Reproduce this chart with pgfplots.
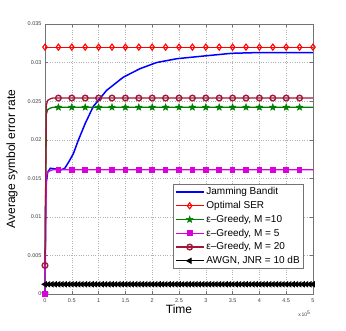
\documentclass[border=0pt]{standalone}
\usepackage{fontspec}
\setmainfont{Liberation Sans}
\usepackage{pgfplots}
\usepackage{pgfplotstable}
\pgfplotsset{compat=1.18}

\definecolor{jbblue}{rgb}{0,0,1}
\definecolor{optred}{rgb}{1,0,0}
\definecolor{gm10}{rgb}{0,0.5,0}
\definecolor{gm5}{rgb}{0.85,0,0.85}
\definecolor{gm20}{rgb}{0.63,0.09,0.22}
\definecolor{framec}{rgb}{0.45,0.45,0.45}

% filled five point star
\pgfdeclareplotmark{fstar}{%
  \pgfpathmoveto{\pgfpointpolar{90}{\pgfplotmarksize}}%
  \pgfpathlineto{\pgfpointpolar{126}{0.42\pgfplotmarksize}}%
  \pgfpathlineto{\pgfpointpolar{162}{\pgfplotmarksize}}%
  \pgfpathlineto{\pgfpointpolar{198}{0.42\pgfplotmarksize}}%
  \pgfpathlineto{\pgfpointpolar{234}{\pgfplotmarksize}}%
  \pgfpathlineto{\pgfpointpolar{270}{0.42\pgfplotmarksize}}%
  \pgfpathlineto{\pgfpointpolar{306}{\pgfplotmarksize}}%
  \pgfpathlineto{\pgfpointpolar{342}{0.42\pgfplotmarksize}}%
  \pgfpathlineto{\pgfpointpolar{18}{\pgfplotmarksize}}%
  \pgfpathlineto{\pgfpointpolar{54}{0.42\pgfplotmarksize}}%
  \pgfpathclose\pgfusepathqfillstroke}

% explicit legend sample: colour, line width, mark, mark size
\newcommand{\legsample}[4]{%
  \draw[#1, line width=#2] (0pt,0pt) -- (28pt,0pt);
  \draw[#1, fill=#1, line width=#2] plot[mark=#3, mark size=#4] coordinates {(14pt,0pt)};}

% epsilon-greedy runs (time, SER)
\pgfplotstableread{
x      m10     m5      m20
0      0.0000  0.0000  0.0037
2500   0.0233  0.0152  0.0245
5000   0.0239  0.0158  0.0251
10000  0.0241  0.0160  0.0253
15000  0.0242  0.0161  0.0254
25000  0.0242  0.0161  0.0254
50000  0.0242  0.0161  0.0254
75000  0.0242  0.0161  0.0254
100000 0.0242  0.0161  0.0254
125000 0.0242  0.0161  0.0254
150000 0.0242  0.0161  0.0254
175000 0.0242  0.0161  0.0254
200000 0.0242  0.0161  0.0254
225000 0.0242  0.0161  0.0254
250000 0.0242  0.0161  0.0254
275000 0.0242  0.0161  0.0254
300000 0.0242  0.0161  0.0254
325000 0.0242  0.0161  0.0254
350000 0.0242  0.0161  0.0254
375000 0.0242  0.0161  0.0254
400000 0.0242  0.0161  0.0254
425000 0.0242  0.0161  0.0254
450000 0.0242  0.0161  0.0254
475000 0.0242  0.0161  0.0254
500000 0.0242  0.0161  0.0254
}\greedy

\begin{document}
\begin{tikzpicture}
\begin{axis}[
    width=268pt, height=270pt, scale only axis,
    xmin=0, xmax=500000, ymin=0, ymax=0.035,
    xtick={0,50000,...,500000},
    ytick={0,0.005,...,0.035},
    scaled x ticks=base 10:-5,
    xtick scale label code/.code={x\,10\textsuperscript{#1}},
    every x tick scale label/.style={at={(rel axis cs:1,0)}, anchor=north east,
        yshift=-13pt, xshift=1pt, font=\fontsize{5}{6}\selectfont},
    scaled y ticks=false,
    /pgf/number format/assume math mode=true,
    xticklabel style={/pgf/number format/fixed, yshift=-1pt},
    yticklabel style={/pgf/number format/fixed, /pgf/number format/precision=3},
    tick label style={font=\fontsize{5.5}{6}\selectfont, color=black!75},
    tick align=inside, major tick length=3pt,
    tick style={color=framec},
    axis line style={color=framec},
    grid=major,
    grid style={dotted, color=black!30},
    clip=false,
    every axis x label/.style={at={(axis description cs:0.5,0)}, yshift=-15.5pt, anchor=center},
    every axis y label/.style={at={(axis description cs:0,0.5)}, xshift=-33pt, rotate=90, anchor=center},
    label style={font=\fontsize{12}{14}\selectfont},
    xlabel={Time},
    ylabel={Average symbol error rate},
    legend style={at={(0.966,0.093)}, anchor=south east, draw=framec, fill=white,
        font=\fontsize{10}{12}\selectfont, row sep=1pt,
        inner xsep=2pt, inner ysep=1.5pt},
    legend cell align=left,
]
% Jamming Bandit
\addplot[color=jbblue, line width=1.5pt, mark=none,
    legend image code/.code={\draw[jbblue, line width=1.5pt] (0pt,0pt) -- (28pt,0pt);}]
    coordinates {
  (0,0) (1000,0.0122) (2500,0.0145) (5000,0.0158) (10000,0.0163)
  (20000,0.0162) (30000,0.0161) (37000,0.0163) (45000,0.0172)
  (53000,0.0182) (62000,0.0199) (75000,0.0221) (90000,0.0243)
  (115000,0.0264) (146000,0.0281) (177000,0.0292) (208000,0.0300)
  (246000,0.0305) (289000,0.0308) (348000,0.0312) (400000,0.0313)
  (450000,0.0313) (500000,0.0313)
};
\addlegendentry{Jamming Bandit}
% Optimal SER
\addplot[color=optred, line width=1.1pt, mark=diamond, mark size=3pt,
    mark options={solid, line width=1.1pt},
    legend image code/.code={%
      \draw[optred, line width=1.1pt] (0pt,0pt) -- (28pt,0pt);
      \draw[optred, line width=1.1pt] plot[mark=diamond, mark size=3pt] coordinates {(14pt,0pt)};}]
    coordinates {
  (0,0.032) (25000,0.032) (50000,0.032) (75000,0.032) (100000,0.032)
  (125000,0.032) (150000,0.032) (175000,0.032) (200000,0.032)
  (225000,0.032) (250000,0.032) (275000,0.032) (300000,0.032)
  (325000,0.032) (350000,0.032) (375000,0.032) (400000,0.032)
  (425000,0.032) (450000,0.032) (475000,0.032) (500000,0.032)
};
\addlegendentry{Optimal SER}
% epsilon-greedy M = 10
\addplot[color=gm10, line width=1.3pt, mark=fstar, mark size=3.6pt,
    mark options={solid, fill=gm10, line width=0.4pt},
    mark indices={1,6,7,8,9,10,11,12,13,14,15,16,17,18,19,20,21,22,23,24},
    legend image code/.code={%
      \draw[gm10, line width=1.3pt] (0pt,0pt) -- (28pt,0pt);
      \draw[gm10, fill=gm10, line width=0.4pt] plot[mark=fstar, mark size=3.6pt] coordinates {(14pt,0pt)};}]
    table[x=x, y=m10] {\greedy};
\addlegendentry{ε–Greedy, M =10}
% epsilon-greedy M = 5
\addplot[color=gm5, line width=1.3pt, mark=square*, mark size=2.2pt,
    mark options={solid, fill=gm5},
    mark indices={1,6,7,8,9,10,11,12,13,14,15,16,17,18,19,20,21,22,23,24},
    legend image code/.code={%
      \draw[gm5, line width=1.3pt] (0pt,0pt) -- (28pt,0pt);
      \draw[gm5, fill=gm5, line width=1.3pt] plot[mark=square*, mark size=2.2pt] coordinates {(14pt,0pt)};}]
    table[x=x, y=m5] {\greedy};
\addlegendentry{ε–Greedy, M = 5}
% epsilon-greedy M = 20
\addplot[color=gm20, line width=1.3pt, mark=o, mark size=2.8pt,
    mark options={solid, line width=1.4pt},
    mark indices={1,6,7,8,9,10,11,12,13,14,15,16,17,18,19,20,21,22,23,24},
    legend image code/.code={%
      \draw[gm20, line width=1.3pt] (0pt,0pt) -- (28pt,0pt);
      \draw[gm20, line width=1.4pt] plot[mark=o, mark size=2.8pt] coordinates {(14pt,0pt)};}]
    table[x=x, y=m20] {\greedy};
\addlegendentry{ε–Greedy, M = 20}
% AWGN, JNR = 10 dB
\addplot[color=black, line width=1pt, mark=triangle*, mark size=2.8pt,
    mark options={solid, rotate=90, fill=black},
    legend image code/.code={%
      \draw[black, line width=1pt] (0pt,0pt) -- (28pt,0pt);
      \draw[black, fill=black, line width=1pt] plot[mark=triangle*, mark size=2.8pt, mark options={rotate=90}] coordinates {(14pt,0pt)};}]
    coordinates {
  (0,0.00126) (6250,0.00126) (12500,0.00126) (18750,0.00126) (25000,0.00126)
  (31250,0.00126) (37500,0.00126) (43750,0.00126) (50000,0.00126)
  (56250,0.00126) (62500,0.00126) (68750,0.00126) (75000,0.00126)
  (81250,0.00126) (87500,0.00126) (93750,0.00126) (100000,0.00126)
  (106250,0.00126) (112500,0.00126) (118750,0.00126) (125000,0.00126)
  (131250,0.00126) (137500,0.00126) (143750,0.00126) (150000,0.00126)
  (156250,0.00126) (162500,0.00126) (168750,0.00126) (175000,0.00126)
  (181250,0.00126) (187500,0.00126) (193750,0.00126) (200000,0.00126)
  (206250,0.00126) (212500,0.00126) (218750,0.00126) (225000,0.00126)
  (231250,0.00126) (237500,0.00126) (243750,0.00126) (250000,0.00126)
  (256250,0.00126) (262500,0.00126) (268750,0.00126) (275000,0.00126)
  (281250,0.00126) (287500,0.00126) (293750,0.00126) (300000,0.00126)
  (306250,0.00126) (312500,0.00126) (318750,0.00126) (325000,0.00126)
  (331250,0.00126) (337500,0.00126) (343750,0.00126) (350000,0.00126)
  (356250,0.00126) (362500,0.00126) (368750,0.00126) (375000,0.00126)
  (381250,0.00126) (387500,0.00126) (393750,0.00126) (400000,0.00126)
  (406250,0.00126) (412500,0.00126) (418750,0.00126) (425000,0.00126)
  (431250,0.00126) (437500,0.00126) (443750,0.00126) (450000,0.00126)
  (456250,0.00126) (462500,0.00126) (468750,0.00126) (475000,0.00126)
  (481250,0.00126) (487500,0.00126) (493750,0.00126) (500000,0.00126)
};
\addlegendentry{AWGN, JNR = 10 dB}
\end{axis}
\pgfresetboundingbox
\path[use as bounding box] (-45pt,-37pt) rectangle (301pt,294pt);
\end{tikzpicture}
\end{document}
